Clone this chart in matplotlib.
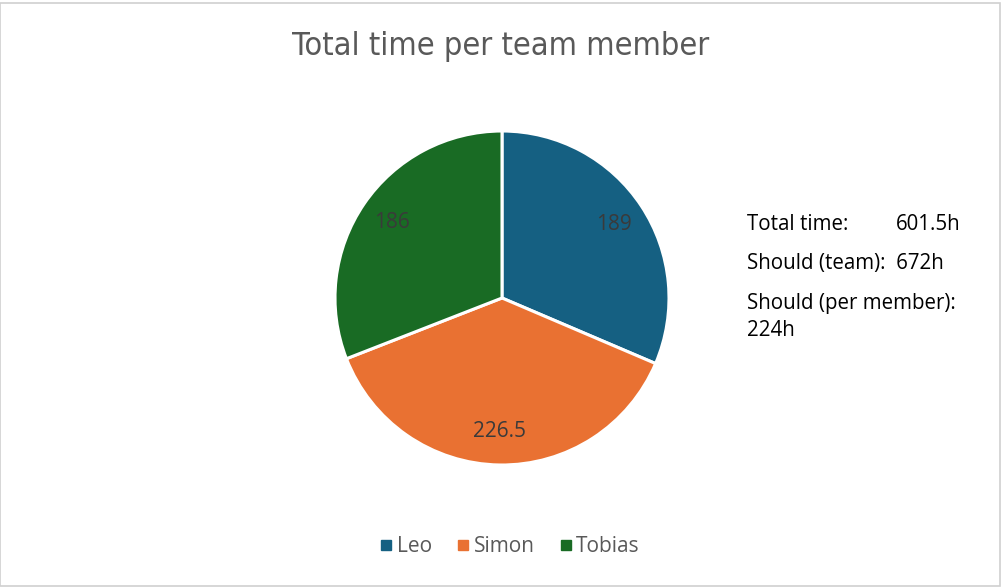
import matplotlib.pyplot as plt
from matplotlib.patches import Rectangle
from matplotlib.lines import Line2D

# hours logged per team member
members = ["Leo", "Simon", "Tobias"]
hours = [189, 226.5, 186]
colors = ["#156082", "#E97132", "#196B24"]

total_hours = 601.5
should_team = 672
should_member = 224

W, H = 1003, 587
fig = plt.figure(figsize=(W / 100, H / 100), dpi=100)
plt.rcParams["font.family"] = ["Open Sans", "DejaVu Sans"]


def fx(px):
    return px / W


def fy(py):
    return 1 - py / H


# pie centred at (502, 298) px, radius 167 px
r = 167
ax = fig.add_axes([fx(502 - r), fy(298 + r), 2 * r / W, 2 * r / H])
wedges, texts, autotexts = ax.pie(
    hours, colors=colors, startangle=90, counterclock=False,
    autopct=lambda p: f"{p * sum(hours) / 100:g}", pctdistance=0.8,
    wedgeprops=dict(edgecolor="white", linewidth=2.2),
    textprops=dict(color="#3a3a3a", fontsize=15),
)
ax.set_xlim(-1, 1)
ax.set_ylim(-1, 1)
ax.set_aspect("equal")
for w in wedges:
    w.set_clip_on(False)

fig.text(fx(501), fy(46), "Total time per team member", ha="center", va="center",
         fontsize=23.3, color="#595959", family=["DejaVu Sans"], fontstretch="condensed")

# summary next to the pie
txt = dict(fontsize=14.8, color="black", va="center", ha="left")
fig.text(fx(747), fy(224), "Total time:", **txt)
fig.text(fx(896), fy(225), f"{total_hours}h", **txt)
fig.text(fx(747), fy(264), f"Should (team):  {should_team}h", **txt)
fig.text(fx(747), fy(304), "Should (per member):", **txt)
fig.text(fx(747), fy(331), f"{should_member}h", **txt)

handles = [Line2D([], [], marker="s", linestyle="none", color=c, markersize=7)
           for c in colors]
fig.legend(handles, members, loc="center", bbox_to_anchor=(fx(508), fy(547)),
           ncol=3, frameon=False, fontsize=15, labelcolor="#595959",
           handletextpad=0.0, columnspacing=1.0, handlelength=1.0)

fig.add_artist(Rectangle((0.5 / W, 1.5 / H), 1 - 3 / W, 1 - 4 / H,
                         transform=fig.transFigure, fill=False,
                         edgecolor="#d0d0d0", linewidth=1.2))

fig.savefig("out.png", dpi=100)
